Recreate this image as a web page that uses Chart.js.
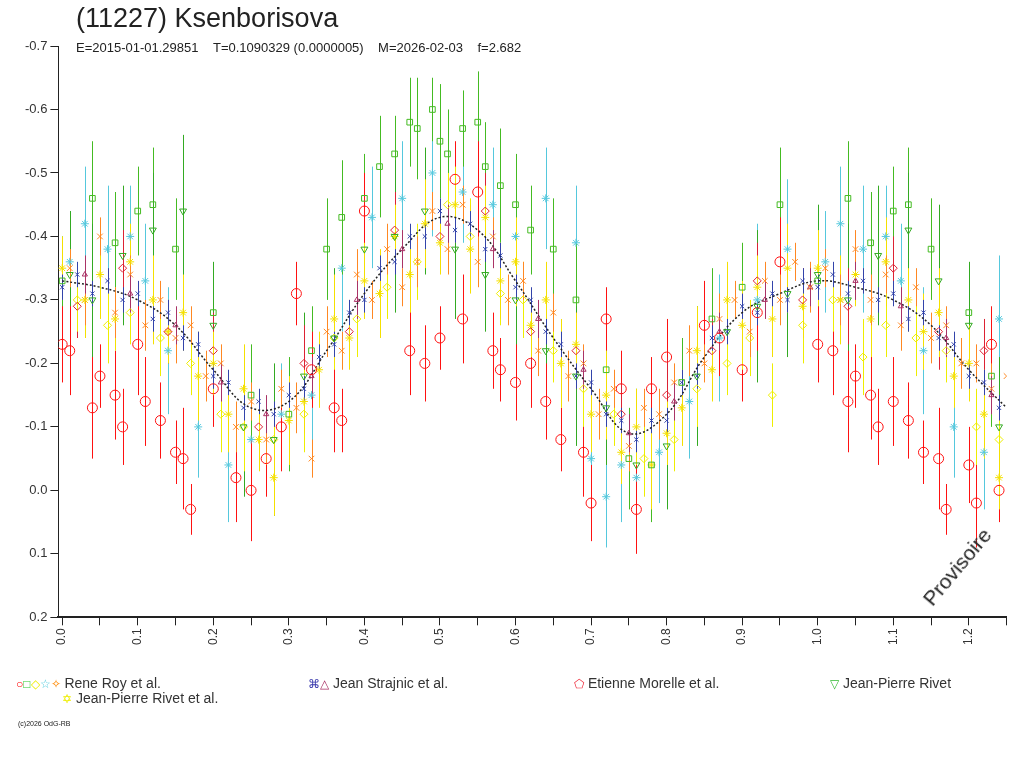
<!DOCTYPE html>
<html>
<head>
<meta charset="utf-8">
<script src="https://cdn.jsdelivr.net/npm/chart.js@4"></script>
<style>
  body { margin: 0; background: #fff; font-family: "Liberation Sans", Arial, sans-serif; }
  #wrap { position: relative; width: 1024px; height: 768px; }
  canvas { position: absolute; left: 0; top: 0; }
  .t { position: absolute; color: #222; white-space: nowrap; }
  .leg { position: absolute; font-size: 14px; color: #333; white-space: nowrap; }
  .leg span { font-size: 12px; }
</style>
</head>
<body>
<div id="wrap">
  <canvas id="c" width="1024" height="768"></canvas>
  <div class="t" style="left:76px;top:3px;font-size:27px;">(11227) Ksenborisova</div>
  <div class="t" style="left:76px;top:40px;font-size:13px;">E=2015-01-01.29851&nbsp;&nbsp;&nbsp;&nbsp;T=0.1090329 (0.0000005)&nbsp;&nbsp;&nbsp;&nbsp;M=2026-02-03&nbsp;&nbsp;&nbsp;&nbsp;f=2.682</div>
  <div class="t" style="left:918px;top:595px;font-size:21px;transform:rotate(-50deg);transform-origin:left top;">Provisoire</div>
  <div class="leg" style="left:16px;top:675px;"><span style="color:#f00">○</span><span style="color:#3c3">□</span><span style="color:#ee0">◇</span><span style="color:#5cd">☆</span><span style="color:#f80">✧</span> Rene Roy et al.</div>
  <div class="leg" style="left:308px;top:675px;"><span style="color:#33a">⌘</span><span style="color:#a36">△</span> Jean Strajnic et al.</div>
  <div class="leg" style="left:574px;top:675px;"><span style="color:#e23">⬠</span> Etienne Morelle et al.</div>
  <div class="leg" style="left:830px;top:675px;"><span style="color:#3b3">▽</span> Jean-Pierre Rivet</div>
  <div class="leg" style="left:62px;top:690px;"><span style="color:#ee0">✡</span> Jean-Pierre Rivet et al.</div>
  <div class="t" style="left:18px;top:720px;font-size:7px;">(c)2026 OdG-RB</div>
</div>
<script>
// fit curve
const fitX = [0,0.05,0.1,0.15,0.2,0.25,0.3,0.35,0.4,0.45,0.5,0.55,0.6,0.65,0.7,0.75,0.8,0.85,0.9,0.95,1.0,1.05,1.1,1.15,1.2,1.25];
const fitY = [-0.33,-0.32,-0.30,-0.26,-0.19,-0.13,-0.14,-0.22,-0.31,-0.38,-0.43,-0.41,-0.33,-0.24,-0.16,-0.09,-0.12,-0.21,-0.28,-0.31,-0.33,-0.32,-0.30,-0.26,-0.19,-0.13];

// Rene Roy - red circles
const redX = [0.0,0.01,0.04,0.05,0.07,0.08,0.1,0.11,0.13,0.15,0.16,0.17,0.2,0.23,0.25,0.27,0.29,0.31,0.33,0.36,0.37,0.4,0.46,0.48,0.5,0.52,0.53,0.55,0.57,0.58,0.6,0.62,0.64,0.66,0.69,0.7,0.72,0.74,0.76,0.78,0.8,0.85,0.87,0.9,0.92,0.95,1.0,1.02,1.04,1.05,1.07,1.08,1.1,1.12,1.14,1.16,1.17,1.2,1.21,1.23,1.24];
const redY = [-0.23,-0.22,-0.13,-0.18,-0.15,-0.10,-0.23,-0.14,-0.11,-0.06,-0.05,0.03,-0.16,-0.02,0.0,-0.05,-0.10,-0.31,-0.19,-0.13,-0.11,-0.44,-0.22,-0.20,-0.24,-0.49,-0.27,-0.47,-0.22,-0.19,-0.17,-0.20,-0.14,-0.08,-0.06,0.02,-0.27,-0.16,0.03,-0.16,-0.21,-0.26,-0.24,-0.19,-0.28,-0.36,-0.23,-0.22,-0.14,-0.18,-0.15,-0.10,-0.14,-0.11,-0.06,-0.05,0.03,-0.04,0.02,-0.23,0.0];
const redE = [0.06,0.07,0.08,0.05,0.07,0.06,0.08,0.07,0.06,0.05,0.08,0.04,0.06,0.07,0.08,0.06,0.07,0.05,0.06,0.07,0.05,0.06,0.07,0.06,0.05,0.06,0.07,0.08,0.06,0.05,0.06,0.07,0.06,0.05,0.07,0.06,0.05,0.06,0.07,0.05,0.06,0.07,0.06,0.05,0.06,0.07,0.06,0.07,0.08,0.05,0.07,0.06,0.07,0.06,0.05,0.08,0.04,0.06,0.07,0.06,0.05];

// Rene Roy - green squares
const grnX = [0.0,0.04,0.07,0.1,0.12,0.15,0.2,0.25,0.3,0.33,0.35,0.37,0.4,0.42,0.44,0.46,0.47,0.49,0.5,0.51,0.53,0.55,0.56,0.58,0.6,0.62,0.65,0.68,0.72,0.75,0.78,0.82,0.86,0.9,0.95,1.0,1.04,1.07,1.1,1.12,1.15,1.2,1.23];
const grnY = [-0.33,-0.46,-0.39,-0.44,-0.45,-0.38,-0.28,-0.15,-0.12,-0.22,-0.38,-0.43,-0.46,-0.51,-0.53,-0.58,-0.57,-0.60,-0.55,-0.53,-0.57,-0.58,-0.51,-0.48,-0.45,-0.41,-0.38,-0.30,-0.19,-0.05,-0.04,-0.17,-0.27,-0.32,-0.45,-0.33,-0.46,-0.39,-0.44,-0.45,-0.38,-0.28,-0.18];
const grnE = [0.07,0.09,0.08,0.07,0.09,0.08,0.07,0.08,0.09,0.07,0.08,0.09,0.07,0.08,0.06,0.07,0.08,0.05,0.09,0.07,0.06,0.08,0.07,0.09,0.08,0.07,0.08,0.09,0.07,0.08,0.09,0.07,0.08,0.07,0.09,0.07,0.09,0.08,0.07,0.09,0.08,0.07,0.08];

// Rene Roy - yellow diamonds
const dmdX = [0.02,0.06,0.09,0.13,0.17,0.21,0.24,0.28,0.32,0.36,0.39,0.43,0.47,0.51,0.54,0.58,0.61,0.65,0.69,0.73,0.77,0.81,0.84,0.88,0.91,0.94,0.98,1.02,1.06,1.09,1.13,1.17,1.21,1.24];
const dmdY = [-0.30,-0.26,-0.28,-0.24,-0.20,-0.12,-0.10,-0.08,-0.12,-0.24,-0.27,-0.32,-0.36,-0.45,-0.40,-0.31,-0.30,-0.22,-0.16,-0.12,-0.05,-0.08,-0.16,-0.20,-0.24,-0.15,-0.26,-0.30,-0.21,-0.26,-0.24,-0.22,-0.10,-0.08];
const dmdE = [0.05,0.06,0.05,0.06,0.05,0.06,0.07,0.05,0.06,0.05,0.06,0.05,0.06,0.05,0.06,0.05,0.06,0.05,0.06,0.05,0.06,0.05,0.06,0.05,0.06,0.05,0.06,0.05,0.06,0.05,0.06,0.05,0.06,0.05];

// Rene Roy - cyan stars
const cyaX = [0.01,0.03,0.06,0.09,0.11,0.14,0.18,0.22,0.25,0.29,0.33,0.37,0.41,0.45,0.49,0.53,0.57,0.6,0.64,0.68,0.7,0.72,0.74,0.76,0.79,0.83,0.87,0.92,0.96,1.01,1.03,1.06,1.09,1.11,1.14,1.18,1.22,1.24];
const cyaY = [-0.36,-0.42,-0.38,-0.40,-0.33,-0.22,-0.10,-0.04,-0.08,-0.12,-0.15,-0.35,-0.43,-0.46,-0.50,-0.47,-0.45,-0.40,-0.46,-0.39,-0.05,0.01,-0.04,-0.02,-0.06,-0.14,-0.24,-0.30,-0.38,-0.36,-0.42,-0.38,-0.40,-0.33,-0.22,-0.10,-0.06,-0.27];
const cyaE = [0.08,0.09,0.1,0.08,0.09,0.1,0.08,0.09,0.1,0.08,0.09,0.1,0.08,0.09,0.1,0.08,0.09,0.1,0.08,0.09,0.1,0.08,0.09,0.1,0.08,0.09,0.1,0.12,0.11,0.08,0.09,0.1,0.08,0.09,0.1,0.08,0.09,0.1];

// Rene Roy - orange 4-point stars
const orgX = [0.01,0.03,0.05,0.07,0.09,0.11,0.13,0.15,0.17,0.19,0.21,0.23,0.25,0.27,0.29,0.31,0.33,0.35,0.37,0.39,0.41,0.43,0.45,0.47,0.49,0.51,0.53,0.55,0.57,0.59,0.61,0.63,0.65,0.67,0.69,0.71,0.73,0.75,0.77,0.79,0.81,0.83,0.85,0.87,0.89,0.91,0.93,0.95,0.97,0.99,1.01,1.03,1.05,1.07,1.09,1.11,1.13,1.15,1.17,1.19,1.21,1.23,1.25];
const orgY = [-0.35,-0.30,-0.40,-0.28,-0.34,-0.26,-0.30,-0.24,-0.26,-0.18,-0.20,-0.10,-0.14,-0.08,-0.16,-0.13,-0.05,-0.25,-0.22,-0.34,-0.30,-0.38,-0.32,-0.36,-0.44,-0.38,-0.45,-0.36,-0.40,-0.30,-0.33,-0.22,-0.28,-0.18,-0.20,-0.12,-0.16,-0.07,-0.13,-0.12,-0.17,-0.22,-0.20,-0.27,-0.30,-0.25,-0.33,-0.30,-0.36,-0.32,-0.35,-0.30,-0.38,-0.30,-0.34,-0.26,-0.32,-0.24,-0.26,-0.20,-0.20,-0.16,-0.18];
const orgE = [0.03,0.04,0.03,0.04,0.03,0.04,0.03,0.04,0.03,0.04,0.03,0.04,0.03,0.04,0.03,0.04,0.03,0.04,0.03,0.04,0.03,0.04,0.03,0.04,0.03,0.04,0.03,0.04,0.03,0.04,0.03,0.04,0.03,0.04,0.03,0.04,0.03,0.04,0.03,0.04,0.03,0.04,0.03,0.04,0.03,0.04,0.03,0.04,0.03,0.04,0.03,0.04,0.03,0.04,0.03,0.04,0.03,0.04,0.03,0.04,0.03,0.04,0.03];

// Jean Strajnic - blue crosses (tight along curve)
const bluX = [0.00,0.02,0.04,0.06,0.08,0.10,0.12,0.14,0.16,0.18,0.20,0.22,0.24,0.26,0.28,0.30,0.32,0.34,0.36,0.38,0.40,0.42,0.44,0.46,0.48,0.50,0.52,0.54,0.56,0.58,0.60,0.62,0.64,0.66,0.68,0.70,0.72,0.74,0.76,0.78,0.80,0.82,0.84,0.86,0.88,0.90,0.92,0.94,0.96,0.98,1.00,1.02,1.04,1.06,1.08,1.10,1.12,1.14,1.16,1.18,1.20,1.22,1.24];
const bluY = [-0.32,-0.34,-0.31,-0.33,-0.30,-0.31,-0.27,-0.28,-0.24,-0.23,-0.18,-0.17,-0.13,-0.14,-0.12,-0.15,-0.16,-0.21,-0.23,-0.28,-0.30,-0.35,-0.36,-0.40,-0.40,-0.44,-0.41,-0.42,-0.38,-0.37,-0.32,-0.30,-0.25,-0.23,-0.18,-0.17,-0.12,-0.11,-0.08,-0.11,-0.11,-0.17,-0.18,-0.24,-0.25,-0.29,-0.28,-0.31,-0.30,-0.33,-0.32,-0.34,-0.31,-0.33,-0.30,-0.31,-0.27,-0.28,-0.24,-0.23,-0.18,-0.17,-0.13];
const bluE = [0.02,0.02,0.02,0.02,0.02,0.02,0.02,0.02,0.02,0.02,0.02,0.02,0.02,0.02,0.02,0.02,0.02,0.02,0.02,0.02,0.02,0.02,0.02,0.02,0.02,0.02,0.02,0.02,0.02,0.02,0.02,0.02,0.02,0.02,0.02,0.02,0.02,0.02,0.02,0.02,0.02,0.02,0.02,0.02,0.02,0.02,0.02,0.02,0.02,0.02,0.02,0.02,0.02,0.02,0.02,0.02,0.02,0.02,0.02,0.02,0.02,0.02,0.02];

// Jean Strajnic - purple triangles
const purX = [0.03,0.09,0.15,0.21,0.27,0.33,0.39,0.45,0.51,0.57,0.63,0.69,0.75,0.81,0.87,0.93,0.99,1.05,1.11,1.17,1.23];
const purY = [-0.34,-0.31,-0.26,-0.17,-0.12,-0.18,-0.30,-0.38,-0.42,-0.38,-0.27,-0.19,-0.09,-0.14,-0.25,-0.30,-0.32,-0.33,-0.29,-0.24,-0.15];
const purE = [0.03,0.03,0.03,0.03,0.03,0.03,0.03,0.03,0.03,0.03,0.03,0.03,0.03,0.03,0.03,0.03,0.03,0.03,0.03,0.03,0.03];

// Etienne Morelle - red pentagons
const morX = [0.02,0.08,0.14,0.2,0.26,0.32,0.38,0.44,0.5,0.56,0.62,0.68,0.74,0.8,0.86,0.92,0.98,1.04,1.1,1.16,1.22];
const morY = [-0.29,-0.35,-0.25,-0.22,-0.10,-0.20,-0.25,-0.41,-0.40,-0.44,-0.25,-0.22,-0.12,-0.15,-0.22,-0.33,-0.30,-0.29,-0.35,-0.25,-0.22];
const morE = [0.05,0.06,0.05,0.06,0.05,0.06,0.05,0.06,0.05,0.06,0.05,0.06,0.05,0.06,0.05,0.06,0.05,0.06,0.05,0.06,0.05];

// Jean-Pierre Rivet - green inverted triangles
const jprX = [0.01,0.04,0.08,0.12,0.16,0.2,0.24,0.28,0.32,0.36,0.4,0.44,0.48,0.52,0.56,0.6,0.64,0.68,0.72,0.76,0.8,0.84,0.88,0.92,0.96,1.0,1.04,1.08,1.12,1.16,1.2,1.24];
const jprY = [-0.34,-0.30,-0.37,-0.41,-0.44,-0.26,-0.10,-0.08,-0.18,-0.24,-0.38,-0.40,-0.44,-0.38,-0.34,-0.30,-0.22,-0.18,-0.13,-0.04,-0.07,-0.18,-0.25,-0.29,-0.31,-0.34,-0.30,-0.37,-0.41,-0.33,-0.26,-0.10];
const jprE = [0.10,0.12,0.11,0.09,0.12,0.10,0.11,0.12,0.10,0.11,0.09,0.12,0.10,0.11,0.09,0.12,0.10,0.11,0.09,0.12,0.10,0.11,0.09,0.12,0.10,0.11,0.12,0.11,0.09,0.12,0.10,0.11];

// Jean-Pierre Rivet et al. - yellow stars
const ylwX = [0.0,0.03,0.05,0.07,0.09,0.12,0.14,0.16,0.18,0.2,0.22,0.24,0.26,0.28,0.3,0.32,0.34,0.36,0.38,0.4,0.42,0.44,0.46,0.48,0.5,0.52,0.54,0.56,0.58,0.6,0.62,0.64,0.66,0.68,0.7,0.72,0.74,0.76,0.78,0.8,0.82,0.84,0.86,0.88,0.9,0.92,0.94,0.96,0.98,1.0,1.03,1.05,1.07,1.09,1.12,1.14,1.16,1.18,1.2,1.22,1.24];
const ylwY = [-0.35,-0.30,-0.34,-0.27,-0.36,-0.30,-0.25,-0.28,-0.18,-0.20,-0.12,-0.16,-0.08,-0.02,-0.11,-0.14,-0.19,-0.27,-0.24,-0.33,-0.31,-0.40,-0.34,-0.42,-0.39,-0.45,-0.38,-0.43,-0.33,-0.36,-0.26,-0.30,-0.20,-0.23,-0.12,-0.15,-0.06,-0.10,-0.04,-0.09,-0.13,-0.22,-0.19,-0.30,-0.26,-0.32,-0.27,-0.35,-0.29,-0.35,-0.30,-0.34,-0.27,-0.36,-0.30,-0.25,-0.28,-0.18,-0.20,-0.12,-0.02];
const ylwE = [0.05,0.06,0.07,0.05,0.06,0.07,0.05,0.06,0.07,0.05,0.06,0.07,0.05,0.06,0.07,0.05,0.06,0.07,0.05,0.06,0.07,0.05,0.06,0.07,0.05,0.06,0.07,0.05,0.06,0.07,0.05,0.06,0.07,0.05,0.06,0.07,0.05,0.06,0.07,0.05,0.06,0.07,0.05,0.06,0.07,0.05,0.06,0.07,0.05,0.06,0.07,0.05,0.06,0.07,0.05,0.06,0.07,0.05,0.06,0.07,0.05];

function pts(xs, ys) { return xs.map((x, i) => ({ x: x, y: ys[i] })); }

function series(xs, ys, es, color, style, size, rot) {
  return {
    type: 'scatter', data: pts(xs, ys), errs: es,
    borderColor: color, backgroundColor: 'rgba(0,0,0,0)',
    pointStyle: style, pointRadius: size, pointBorderWidth: 1,
    pointRotation: rot || 0
  };
}

// vertical error bars, drawn under the markers
const errorBars = {
  id: 'errorBars',
  beforeDatasetsDraw(chart) {
    const ctx = chart.ctx, ys = chart.scales.y, xs = chart.scales.x;
    ctx.save();
    ctx.beginPath();
    ctx.rect(chart.chartArea.left, chart.chartArea.top, chart.chartArea.width, chart.chartArea.height);
    ctx.clip();
    chart.data.datasets.forEach(ds => {
      if (!ds.errs) return;
      ctx.strokeStyle = ds.borderColor;
      ctx.lineWidth = 1;
      ds.data.forEach((p, i) => {
        const px = Math.round(xs.getPixelForValue(p.x)) + 0.5;
        ctx.beginPath();
        ctx.moveTo(px, ys.getPixelForValue(p.y - ds.errs[i]));
        ctx.lineTo(px, ys.getPixelForValue(p.y + ds.errs[i]));
        ctx.stroke();
      });
    });
    ctx.restore();
  }
};

new Chart(document.getElementById('c'), {
  type: 'scatter',
  data: {
    datasets: [
      series(cyaX, cyaY, cyaE, '#55c8dd', 'star', 4),
      series(grnX, grnY, grnE, '#44bb22', 'rect', 4),
      series(jprX, jprY, jprE, '#33aa22', 'triangle', 4, 180),
      series(redX, redY, redE, '#ff1111', 'circle', 5),
      series(morX, morY, morE, '#dd2233', 'rectRot', 4),
      series(dmdX, dmdY, dmdE, '#eeee00', 'rectRot', 4),
      series(ylwX, ylwY, ylwE, '#f4e000', 'star', 4),
      series(orgX, orgY, orgE, '#ff8822', 'crossRot', 4),
      series(purX, purY, purE, '#aa3366', 'triangle', 3),
      series(bluX, bluY, bluE, '#3344aa', 'crossRot', 3),
      {
        type: 'line', data: pts(fitX, fitY), borderColor: '#222', borderWidth: 1.5,
        borderDash: [2, 2], pointRadius: 0, tension: 0.4, fill: false
      }
    ]
  },
  plugins: [errorBars],
  options: {
    responsive: false, animation: false,
    layout: { padding: { top: 46, left: 22, right: 13, bottom: 120 } },
    plugins: { legend: { display: false }, tooltip: { enabled: false } },
    scales: {
      x: {
        type: 'linear', min: -0.005, max: 1.25,
        border: { color: '#222', width: 2 },
        grid: { drawOnChartArea: false, tickLength: 8, color: '#222' },
        afterBuildTicks: s => { s.ticks = []; for (let i = 0; i <= 25; i++) s.ticks.push({ value: i * 0.05 }); },
        ticks: {
          color: '#333', font: { size: 12, family: 'Liberation Sans, sans-serif' }, maxRotation: 90, minRotation: 90, autoSkip: false,
          callback: v => (Math.round(v * 100) % 10 === 0 ? v.toFixed(1) : '')
        }
      },
      y: {
        type: 'linear', min: -0.7, max: 0.2, reverse: true,
        border: { color: '#222', width: 1 },
        grid: { drawOnChartArea: false, tickLength: 8, color: '#222' },
        ticks: { stepSize: 0.1, color: '#333', font: { size: 13, family: 'Liberation Sans, sans-serif' }, callback: v => v.toFixed(1) }
      }
    }
  }
});
</script>
</body>
</html>
